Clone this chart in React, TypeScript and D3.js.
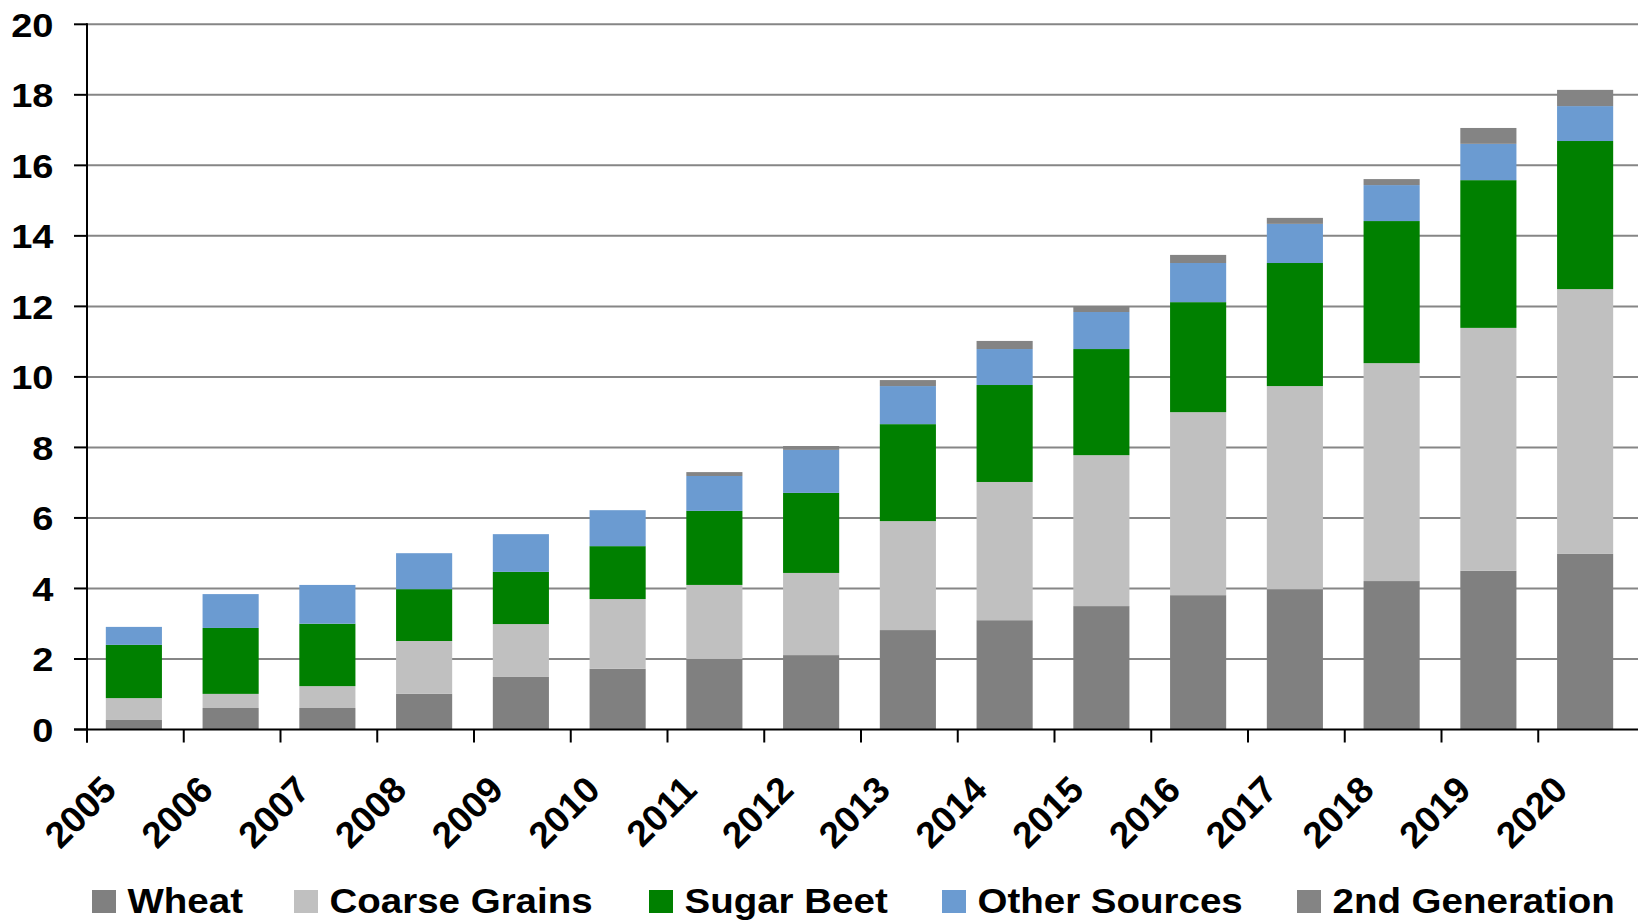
import React from 'react';
import * as d3 from 'd3';

const years = ['2005','2006','2007','2008','2009','2010','2011','2012','2013','2014','2015','2016','2017','2018','2019','2020'];
const wheat = [0.27,0.61,0.61,1.01,1.49,1.72,2.00,2.11,2.82,3.10,3.50,3.81,3.98,4.21,4.50,4.98];
const coarseGrains = [0.62,0.40,0.62,1.50,1.50,1.98,2.10,2.33,3.09,3.92,4.28,5.19,5.76,6.18,6.89,7.51];
const sugarBeet = [1.51,1.87,1.77,1.47,1.48,1.50,2.10,2.27,2.75,2.75,3.01,3.12,3.49,4.03,4.19,4.20];
const otherSources = [0.51,0.96,1.10,1.02,1.07,1.02,0.99,1.22,1.08,1.02,1.05,1.11,1.11,1.02,1.03,0.99];
const secondGeneration = [0,0,0,0,0,0,0.11,0.11,0.17,0.23,0.17,0.23,0.17,0.17,0.45,0.46];
const seriesNames = ['Wheat','Coarse Grains','Sugar Beet','Other Sources','2nd Generation'];
const seriesColors = ['#808080','#C0C0C0','#008000','#6B9BD1','#848484'];
const yTicks = [0,2,4,6,8,10,12,14,16,18,20];
const legendX = [92, 294, 649, 942, 1297];

const FONT = '"Liberation Sans", Arial, sans-serif';

export default function App() {
  const W = 1638, H = 921;
  const left = 87, right = 1635, top = 24.3, bottom = 729.5;
  const x = d3.scaleBand<string>().domain(years).range([left, right]).paddingInner(0.42).paddingOuter(0.21);
  const y = d3.scaleLinear().domain([0, 20]).range([bottom, top]);
  const keys = ['k0','k1','k2','k3','k4'];
  const rows = years.map((yr, i) => ({
    year: yr,
    k0: wheat[i], k1: coarseGrains[i], k2: sugarBeet[i], k3: otherSources[i], k4: secondGeneration[i],
  }));
  const stacked = d3.stack<any>().keys(keys)(rows);
  const step = x.step();
  const catStart = years.map((_, i) => left + i * step);

  return (
    <svg width={W} height={H} style={{ position: 'absolute', left: 0, top: 0, background: '#fff' }}>
      {yTicks.filter((t) => t > 0).map((t) => (
        <line key={'g' + t} x1={left} x2={W} y1={y(t)} y2={y(t)} stroke="#868686" strokeWidth={2} />
      ))}
      {stacked.map((s, si) => (
        <g key={'s' + si} fill={seriesColors[si]}>
          {s.map((d, i) => {
            const h = y(d[0]) - y(d[1]);
            if (h <= 0) return null;
            return <rect key={i} x={(x(years[i]) as number) - 1.5} width={x.bandwidth()} y={y(d[1])} height={h} />;
          })}
        </g>
      ))}
      <line x1={left} x2={left} y1={top - 1} y2={bottom + 13} stroke="#000" strokeWidth={2} />
      {yTicks.map((t) => (
        <g key={'yt' + t}>
          <line x1={left - 13} x2={left} y1={y(t)} y2={y(t)} stroke="#000" strokeWidth={2} />
          <text
            transform={`translate(53.5,${y(t)}) scale(1.12,1)`}
            textAnchor="end"
            dy="0.36em"
            fontFamily={FONT}
            fontWeight="bold"
            fontSize={34}
            fill="#000"
          >
            {t}
          </text>
        </g>
      ))}
      <line x1={left - 13} x2={W} y1={bottom} y2={bottom} stroke="#000" strokeWidth={2} />
      {catStart.map((cx, i) => (
        <line key={'xt' + i} x1={cx} x2={cx} y1={bottom} y2={bottom + 13} stroke="#000" strokeWidth={2} />
      ))}
      {years.map((yr) => {
        const c = (x(yr) as number) + x.bandwidth() / 2;
        return (
          <text
            key={'xl' + yr}
            transform={`translate(${c - 17},792) rotate(-45)`}
            textAnchor="end"
            fontFamily={FONT}
            fontWeight="bold"
            fontSize={37}
            fill="#000"
          >
            {yr}
          </text>
        );
      })}
      {seriesNames.map((n, i) => (
        <g key={'lg' + i}>
          <rect x={legendX[i]} y={890} width={24} height={23} fill={seriesColors[i]} />
          <text
            transform={`translate(${legendX[i] + 35.5},913) scale(1.1,1)`}
            fontFamily={FONT}
            fontWeight="bold"
            fontSize={35}
            fill="#000"
          >
            {n}
          </text>
        </g>
      ))}
    </svg>
  );
}
